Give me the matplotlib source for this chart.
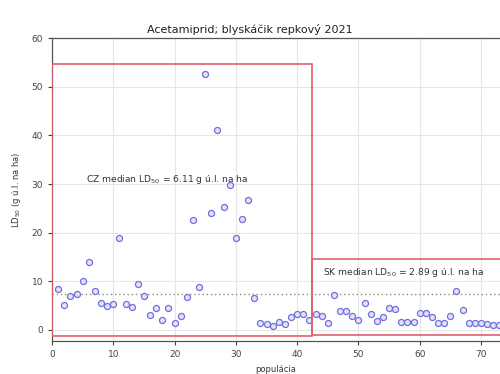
import numpy as np
import matplotlib
matplotlib.use('Agg')
import matplotlib.pyplot as plt
from matplotlib.patches import Rectangle

# populácia 1..73, LD50 (g ú.l. na ha)
ld50 = [8.4, 5.1, 7.0, 7.4, 10.1, 14.0, 8.0, 5.5, 4.9, 5.3,
        18.9, 5.3, 4.8, 9.4, 7.0, 3.1, 4.5, 2.1, 4.5, 1.5,
        2.9, 6.8, 22.6, 8.8, 52.6, 24.0, 41.1, 25.3, 29.8, 18.9,
        22.8, 26.7, 6.6, 1.4, 1.3, 0.9, 1.6, 1.3, 2.7, 3.3,
        3.2, 2.0, 3.2, 2.8, 1.4, 7.2, 3.8, 3.8, 2.9, 2.0,
        5.5, 3.2, 1.9, 2.7, 4.6, 4.2, 1.7, 1.7, 1.7, 3.4,
        3.4, 2.7, 1.4, 1.4, 2.9, 8.0, 4.1, 1.4, 1.4, 1.4,
        1.3, 1.1, 1.1]
populacia = np.arange(1, len(ld50) + 1)

ref_line = 7.4
cz_box = (0, -1.3, 42.4, 54.6)    # x0, y0, x1, y1
sk_box = (42.4, -1.1, 80, 14.6)
cz_text = 'CZ median LD$_{50}$ = 6.11 g ú.l. na ha'
sk_text = 'SK median LD$_{50}$ = 2.89 g ú.l. na ha'

fig = plt.figure(figsize=(5, 3.74), dpi=100)
ax = fig.add_axes([0.104, 0.088, 0.896, 0.81])

ax.grid(True, color='#e6e6e6', linewidth=0.8)
ax.set_axisbelow(True)

ax.axhline(ref_line, color='#8c8c78', linestyle=(0, (1, 2)), linewidth=1.0, zorder=2)

ax.scatter(populacia, ld50, s=19, facecolor='#e2e2fa', edgecolor='#7070dc',
           linewidth=0.9, zorder=3)

for (x0, y0, x1, y1) in (cz_box, sk_box):
    ax.add_patch(Rectangle((x0, y0), x1 - x0, y1 - y0, fill=False,
                           edgecolor='#e0606e', linewidth=1.2, zorder=4, clip_on=True))

ax.text(5.5, 30.5, cz_text, fontsize=6.6, color='#333333')
ax.text(44.3, 11.3, sk_text, fontsize=6.6, color='#333333')

ax.set_xlim(0, 73.1)
ax.set_ylim(-2.3, 60)
ax.set_xticks(np.arange(0, 71, 10))
ax.set_yticks(np.arange(0, 61, 10))
ax.tick_params(labelsize=6.5, colors='#444444', length=3, direction='out')

ax.spines['right'].set_visible(False)
for s in ['left', 'bottom', 'top']:
    ax.spines[s].set_color('#555555')
    ax.spines[s].set_linewidth(0.9)

ax.set_title('Acetamiprid; blyskáčik repkový 2021', fontsize=8, color='#222222',
             pad=4, x=0.442)
ax.set_xlabel('populácia', fontsize=6, color='#333333', labelpad=4)
ax.set_ylabel('LD$_{50}$ (g ú.l. na ha)', fontsize=6, color='#333333', labelpad=6)

fig.savefig('out.png', dpi=100)
